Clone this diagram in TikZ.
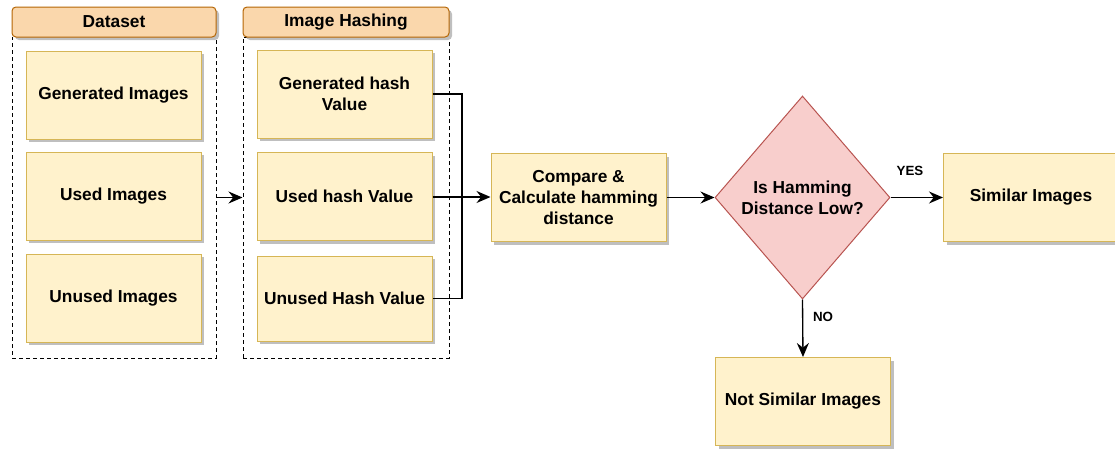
\documentclass[tikz,border=0pt]{standalone}
\usepackage{fontspec}
\setmainfont{Liberation Sans}
\usetikzlibrary{arrows.meta,shapes.geometric,shadows}

\definecolor{boxfill}{HTML}{FFF2CC}
\definecolor{boxline}{HTML}{D6B656}
\definecolor{headfill}{HTML}{FAD7AC}
\definecolor{headline}{HTML}{B46504}
\definecolor{decfill}{HTML}{F8CECC}
\definecolor{decline}{HTML}{B85450}

\tikzset{every picture/.style={line width=0.75pt}}
\tikzset{
	boxshadow/.style={drop shadow={shadow xshift=2.25pt,shadow yshift=-2.25pt,fill=black!25,opacity=1}},
	stepbox/.style={draw=boxline,fill=boxfill,boxshadow,minimum width=131.25pt,minimum height=66pt,
		inner sep=0pt,align=center,font=\fontsize{13}{15.75}\selectfont\bfseries},
	headbox/.style={draw=headline,fill=headfill,boxshadow,rounded corners=3pt,minimum height=22.5pt,
		inner sep=0pt,font=\fontsize{13}{15.75}\selectfont\bfseries},
	groupbox/.style={draw,dash pattern={on 3pt off 2.25pt},minimum height=240.75pt,inner sep=0pt},
	decision/.style={diamond,draw=decline,fill=decfill,minimum width=131.25pt,minimum height=152.25pt,
		inner sep=0pt,aspect=0.86,align=center,font=\fontsize{13}{15.75}\selectfont\bfseries},
	flow/.style={line width=1pt,-{Stealth[length=10.5pt,width=9pt,inset=3.5pt]}},
	link/.style={line width=1pt},
	answer/.style={inner sep=0pt,font=\fontsize{10}{12}\selectfont\bfseries}
}

\begin{document}
\begin{tikzpicture}[x=0.75pt,y=0.75pt,yscale=-1,xscale=1]
		\useasboundingbox (0,0) rectangle (1115,450);
		
		%dashed groups
		\node [groupbox,minimum width=153pt] (dsbox) at (114,197.5) {};
		\node [groupbox,minimum width=154.5pt] (hashbox) at (346,197.5) {};
		
		%group titles
		\node [headbox,minimum width=153pt] (dshead) at (114,22) {Dataset};
		\node [headbox,minimum width=154.5pt] (hashhead) at (346,22) {Image Hashing};
		
		%dataset images
		\node [stepbox] (genimg) at (113.5,95) {Generated Images};
		\node [stepbox] (usedimg) at (113.5,196) {Used Images};
		\node [stepbox] (unusedimg) at (113.5,298) {Unused Images};
		
		%hash values
		\node [stepbox] (genhash) at (344.5,94) {Generated hash\\Value};
		\node [stepbox] (usedhash) at (344.5,196.5) {Used hash Value};
		\node [stepbox,minimum height=63.75pt] (unusedhash) at (344.5,298.5) {Unused Hash Value};
		
		%comparison and decision
		\node [stepbox] (cmp) at (578.5,197.5) {Compare \&\\Calculate hamming\\distance};
		\node [decision] (dec) at (802.5,197.5) {Is Hamming\\Distance Low?};
		\node [stepbox] (sim) at (1031,197.5) {Similar Images};
		\node [stepbox] (notsim) at (803,401.5) {Not Similar Images};
		
		%connectors
		\coordinate (join) at (462,197);
		\draw [flow] (dsbox.east) -- (hashbox.west);
		\draw [link] (genhash.east) -- (genhash.east -| join) -- (unusedhash.east -| join) -- (unusedhash.east);
		\draw [flow] (usedhash.east |- join) -- (cmp.west |- join);
		\draw [flow] (cmp.east) -- (dec.west);
		\draw [flow] (dec.east) -- (sim.west);
		\draw [flow] (dec.south) -- (notsim.north);
		
		%branch labels
		\node [answer] (yes) at (910,171) {YES};
		\node [answer] (no) at (823,317) {NO};
\end{tikzpicture}
\end{document}
